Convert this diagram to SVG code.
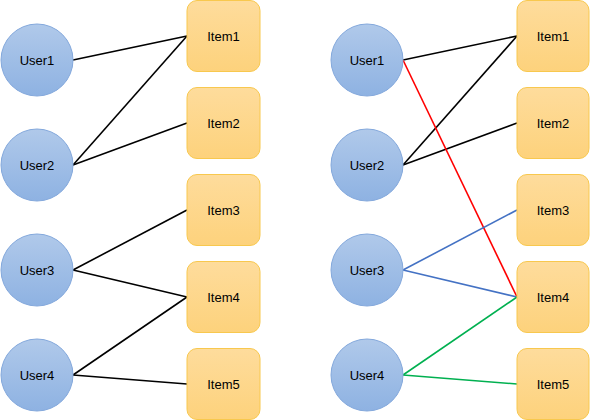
<svg xmlns="http://www.w3.org/2000/svg" width="590" height="420" viewBox="0 0 590 420">
<defs>
<linearGradient id="gu" x1="0" y1="0" x2="0" y2="1"><stop offset="0" stop-color="#b0c9ea"/><stop offset="1" stop-color="#8eb2e2"/></linearGradient>
<linearGradient id="gi" x1="0" y1="0" x2="0" y2="1"><stop offset="0" stop-color="#fedc9c"/><stop offset="1" stop-color="#fdd27c"/></linearGradient>
<style>
.u{fill:url(#gu);stroke:#83a8dc;stroke-width:1}
.i{fill:url(#gi);stroke:#f8c84e;stroke-width:1}
.t{font-family:"Liberation Sans",Arial,sans-serif;font-size:13px;fill:#000;text-anchor:middle;dominant-baseline:central}
.k{stroke:#000;stroke-width:1.6;fill:none}
.r{stroke:#ff0000;stroke-width:1.6;fill:none}
.b{stroke:#4472c4;stroke-width:1.6;fill:none}
.g{stroke:#00b050;stroke-width:1.6;fill:none}
</style>
</defs>
<g id="connectors">
<line class="k" x1="73" y1="60" x2="187" y2="36"/>
<line class="k" x1="73" y1="165" x2="187" y2="36"/>
<line class="k" x1="73" y1="165" x2="187" y2="123"/>
<line class="k" x1="73" y1="270" x2="187" y2="210"/>
<line class="k" x1="73" y1="270" x2="187" y2="297"/>
<line class="k" x1="73" y1="375" x2="187" y2="297"/>
<line class="k" x1="73" y1="375" x2="187" y2="384"/>
<line class="k" x1="403" y1="60" x2="517" y2="36"/>
<line class="k" x1="403" y1="165" x2="517" y2="36"/>
<line class="k" x1="403" y1="165" x2="517" y2="123"/>
<line class="r" x1="403" y1="60" x2="517" y2="297"/>
<line class="b" x1="403" y1="270" x2="517" y2="210"/>
<line class="b" x1="403" y1="270" x2="517" y2="297"/>
<line class="g" x1="403" y1="375" x2="517" y2="297"/>
<line class="g" x1="403" y1="375" x2="517" y2="384"/>
</g>
<g id="L-User1"><circle class="u" cx="37" cy="60" r="36"/><text class="t" x="37" y="60">User1</text></g>
<g id="L-User2"><circle class="u" cx="37" cy="165" r="36"/><text class="t" x="37" y="165">User2</text></g>
<g id="L-User3"><circle class="u" cx="37" cy="270" r="36"/><text class="t" x="37" y="270">User3</text></g>
<g id="L-User4"><circle class="u" cx="37" cy="375" r="36"/><text class="t" x="37" y="375">User4</text></g>
<g id="L-Item1"><rect class="i" x="187" y="0.5" width="73" height="71" rx="10"/><text class="t" x="223.5" y="36">Item1</text></g>
<g id="L-Item2"><rect class="i" x="187" y="87.5" width="73" height="71" rx="10"/><text class="t" x="223.5" y="123">Item2</text></g>
<g id="L-Item3"><rect class="i" x="187" y="174.5" width="73" height="71" rx="10"/><text class="t" x="223.5" y="210">Item3</text></g>
<g id="L-Item4"><rect class="i" x="187" y="261.5" width="73" height="71" rx="10"/><text class="t" x="223.5" y="297">Item4</text></g>
<g id="L-Item5"><rect class="i" x="187" y="348.5" width="73" height="71" rx="10"/><text class="t" x="223.5" y="384">Item5</text></g>
<g id="R-User1"><circle class="u" cx="367" cy="60" r="36"/><text class="t" x="367" y="60">User1</text></g>
<g id="R-User2"><circle class="u" cx="367" cy="165" r="36"/><text class="t" x="367" y="165">User2</text></g>
<g id="R-User3"><circle class="u" cx="367" cy="270" r="36"/><text class="t" x="367" y="270">User3</text></g>
<g id="R-User4"><circle class="u" cx="367" cy="375" r="36"/><text class="t" x="367" y="375">User4</text></g>
<g id="R-Item1"><rect class="i" x="517" y="0.5" width="72" height="71" rx="10"/><text class="t" x="553" y="36">Item1</text></g>
<g id="R-Item2"><rect class="i" x="517" y="87.5" width="72" height="71" rx="10"/><text class="t" x="553" y="123">Item2</text></g>
<g id="R-Item3"><rect class="i" x="517" y="174.5" width="72" height="71" rx="10"/><text class="t" x="553" y="210">Item3</text></g>
<g id="R-Item4"><rect class="i" x="517" y="261.5" width="72" height="71" rx="10"/><text class="t" x="553" y="297">Item4</text></g>
<g id="R-Item5"><rect class="i" x="517" y="348.5" width="72" height="71" rx="10"/><text class="t" x="553" y="384">Item5</text></g>
</svg>
